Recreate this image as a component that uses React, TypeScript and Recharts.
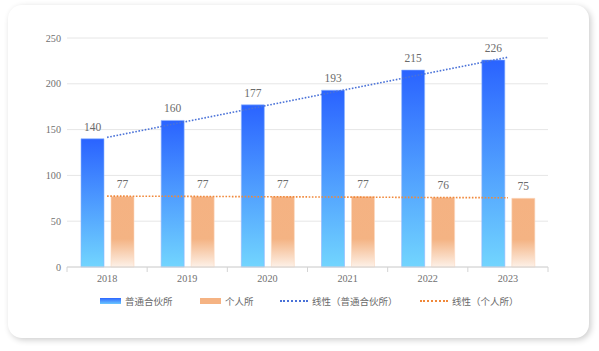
import React from 'react';
import { ComposedChart, Bar, Line, XAxis, YAxis, CartesianGrid, LabelList } from 'recharts';

const years = ['2018', '2019', '2020', '2021', '2022', '2023'];
const partnership = [140, 160, 177, 193, 215, 226];
const individual = [77, 77, 77, 77, 76, 75];
const trendPartnership = [141.5, 159, 176.5, 194, 211.5, 229];
const trendIndividual = [77.4, 77.1, 76.7, 76.3, 75.9, 75.6];
const yTicks = [0, 50, 100, 150, 200, 250];
const seriesNames = ['普通合伙所', '个人所', '线性（普通合伙所）', '线性（个人所）'];

const data = years.map((y, i) => ({
  year: y,
  p: partnership[i],
  ind: individual[i],
  tp: trendPartnership[i],
  ti: trendIndividual[i],
}));

const NUM_FONT = '"Liberation Serif", serif';
const CJK_FONT = '"Noto Sans CJK SC", sans-serif';
const HALF_BAND = 481 / 6 / 2;

const XTick = (props: any) => {
  const { x, y, payload, index } = props;
  const axisY = y - 8;
  return (
    <g>
      <line x1={x - HALF_BAND} x2={x - HALF_BAND} y1={axisY} y2={axisY + 5} stroke="#d4d4d4" />
      {index === years.length - 1 && (
        <line x1={x + HALF_BAND} x2={x + HALF_BAND} y1={axisY} y2={axisY + 5} stroke="#d4d4d4" />
      )}
      <text x={x} y={y} dy="0.71em" textAnchor="middle" fill="#707070" fontSize={10.2} fontFamily={NUM_FONT}>
        {payload.value}
      </text>
    </g>
  );
};

const LegendBox = () => {
  const textStyle: React.CSSProperties = {
    position: 'absolute',
    top: 294,
    fontSize: 9.5,
    color: '#6a6a6a',
    fontFamily: CJK_FONT,
    lineHeight: '14px',
    whiteSpace: 'nowrap',
  };
  return (
    <>
      <div style={{ position: 'absolute', left: 100, top: 298, width: 21, height: 6, background: 'linear-gradient(#2d66ff, #6cc8ff)' }} />
      <div style={{ ...textStyle, left: 125 }}>{seriesNames[0]}</div>
      <div style={{ position: 'absolute', left: 200, top: 298, width: 21, height: 6, background: '#f5b383' }} />
      <div style={{ ...textStyle, left: 225 }}>{seriesNames[1]}</div>
      <div style={{ position: 'absolute', left: 280, top: 300, width: 28, height: 0, borderTop: '2px dotted #4a72d8' }} />
      <div style={{ ...textStyle, left: 312 }}>{seriesNames[2]}</div>
      <div style={{ position: 'absolute', left: 420, top: 300, width: 28, height: 0, borderTop: '2px dotted #f0883a' }} />
      <div style={{ ...textStyle, left: 452 }}>{seriesNames[3]}</div>
    </>
  );
};

export default function App() {
  return (
    <div style={{ position: 'relative', width: 599, height: 351, background: '#fff', overflow: 'hidden' }}>
      <style>{`body{margin:0;}`}</style>
      <div
        style={{
          position: 'absolute',
          left: 8,
          top: 5,
          width: 581,
          height: 333,
          borderRadius: 14,
          background: '#fff',
          boxShadow: '2px 2px 6px rgba(0,0,0,0.2)',
        }}
      />
      <div style={{ position: 'absolute', left: 0, top: 0 }}>
        <ComposedChart
          width={599}
          height={351}
          data={data}
          margin={{ top: 38, right: 51, left: 27, bottom: 54 }}
          barGap={7}
          barSize={23}
        >
          <defs>
            <linearGradient id="gBlue" x1="0" y1="0" x2="0" y2="1">
              <stop offset="0%" stopColor="#2a63ff" />
              <stop offset="100%" stopColor="#72d5fe" />
            </linearGradient>
            <linearGradient id="gOrange" x1="0" y1="0" x2="0" y2="1">
              <stop offset="0%" stopColor="#f5b282" />
              <stop offset="60%" stopColor="#f4b383" />
              <stop offset="100%" stopColor="#fdf1e8" />
            </linearGradient>
          </defs>
          <CartesianGrid vertical={false} stroke="#e6e6e6" />
          <XAxis
            dataKey="year"
            axisLine={{ stroke: '#d4d4d4' }}
            tickLine={false}
            tick={<XTick />}
            height={30}
            interval={0}
          />
          <YAxis
            domain={[0, 250]}
            ticks={yTicks}
            axisLine={false}
            tickLine={false}
            tickSize={0}
            tickMargin={6}
            width={40}
            tick={{ fill: '#707070', fontSize: 10.2, fontFamily: NUM_FONT }}
          />
          <Bar dataKey="p" fill="url(#gBlue)" stroke="#8fb6ff" strokeWidth={0.6} isAnimationActive={false}>
            <LabelList dataKey="p" position="top" offset={8} fill="#6b6b6b" fontSize={11.5} fontFamily={NUM_FONT} />
          </Bar>
          <Bar dataKey="ind" fill="url(#gOrange)" stroke="#fbd9c0" strokeWidth={0.6} isAnimationActive={false}>
            <LabelList dataKey="ind" position="top" offset={8} fill="#6b6b6b" fontSize={11.5} fontFamily={NUM_FONT} />
          </Bar>
          <Line dataKey="tp" stroke="#4a72d8" strokeWidth={1.6} strokeDasharray="1.6 1.6" dot={false} activeDot={false} isAnimationActive={false} />
          <Line dataKey="ti" stroke="#f0883a" strokeWidth={1.6} strokeDasharray="1.6 1.6" dot={false} activeDot={false} isAnimationActive={false} />
        </ComposedChart>
      </div>
      <LegendBox />
    </div>
  );
}
